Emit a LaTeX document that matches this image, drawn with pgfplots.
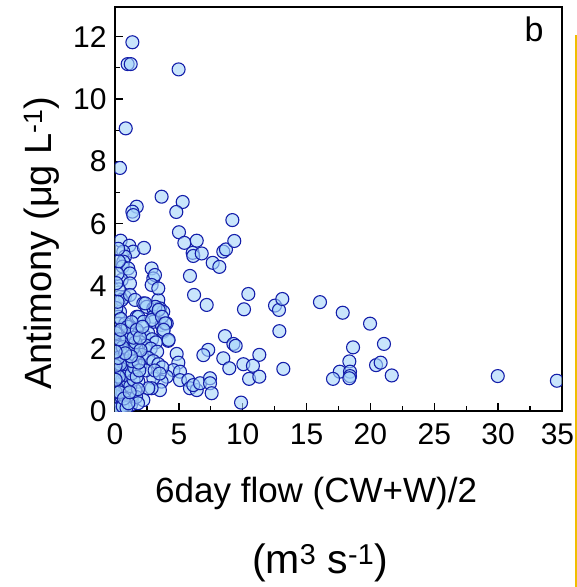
\documentclass[border=0pt]{standalone}
\usepackage{pgfplots}
\pgfplotsset{compat=1.18}
\usepackage{fontspec}
\setmainfont{Liberation Sans}
\definecolor{edgeblue}{RGB}{20,30,170}
\definecolor{fillblue}{RGB}{165,212,250}
\definecolor{gold}{RGB}{240,190,0}
\begin{document}
\begin{tikzpicture}[x=1pt,y=1pt]
\useasboundingbox (0,0) rectangle (577,-587);
\begin{axis}[
  at={(115pt,-411pt)}, anchor=south west,
  scale only axis, width=447pt, height=404pt,
  xmin=0, xmax=35, ymin=0, ymax=12.95,
  xtick={0,5,...,35}, ytick={0,2,...,12},
  xticklabels={0,5,10,15,20,25,30,35\hspace*{9pt}},
  minor x tick num=1, minor y tick num=1,
  xtick pos=bottom, ytick pos=left,
  tick align=inside,
  major tick length=8pt, minor tick length=5pt,
  tick style={line width=1.3pt, black},
  axis line style={line width=1.6pt, black},
  /pgf/number format/assume math mode=true,
  ticklabel style={font=\fontsize{30}{30}\selectfont},
  xticklabel style={yshift=-9pt},
  yticklabel style={xshift=-5pt},
  clip marker paths=true,
  xlabel={6day flow (CW+W)/2},
  xlabel style={font=\fontsize{35}{35}\selectfont, at={(axis description cs:0.45,-0.203)}, anchor=center},
  ylabel={Antimony (μg L\textsuperscript{-1})},
  ylabel style={font=\fontsize{38}{38}\selectfont, at={(axis description cs:-0.163,0.416)}, anchor=center},
]
\addplot[only marks, mark=*, mark size=6.5pt,
  mark options={draw=edgeblue, fill=fillblue, fill opacity=0.6, line width=1.1pt}]
  table {
x y
1.36 11.82
0.99 11.12
1.23 11.12
4.98 10.95
0.84 9.06
0.39 7.79
3.65 6.87
5.3 6.7
1.7 6.55
1.36 6.39
1.43 6.28
4.8 6.38
9.19 6.12
0.44 5.46
1.12 5.30
1.43 5.11
2.27 5.23
5.01 5.73
5.43 5.39
6.4 5.46
6.08 5.07
6.13 4.97
6.79 5.05
7.65 4.75
8.17 4.62
8.48 5.11
8.69 5.18
9.34 5.45
5.87 4.33
6.19 3.72
7.18 3.40
10.44 3.75
10.1 3.26
0.65 5.11
0.78 4.95
0.65 4.79
0.6 4.63
1.04 4.57
1.17 4.41
0.52 4.2
1.17 4.09
0.78 3.66
0.39 3.66
0.52 3.56
1.17 3.72
1.57 3.56
2.22 3.45
2.48 3.34
3.0 3.29
3.39 3.56
3.52 3.29
3.78 3.18
3.0 3.02
1.7 3.02
0.39 3.18
0.26 3.02
2.87 4.57
3.0 4.25
3.13 4.36
2.87 4.04
3.39 3.93
1.83 3.02
3.0 2.86
3.65 2.76
3.78 2.54
4.05 2.81
4.17 2.25
4.83 1.83
4.96 1.55
4.57 1.31
5.09 1.26
5.09 0.99
5.74 0.99
5.87 0.73
6.4 0.67
6.13 0.83
6.66 0.89
7.44 1.05
7.44 0.89
7.57 0.57
7.3 1.96
6.92 1.79
4.05 1.1
3.65 0.94
3.52 0.67
3.0 1.05
2.87 0.73
2.61 0.73
2.22 0.35
1.83 0.94
1.57 0.67
1.31 0.35
8.61 2.40
9.27 2.15
9.45 2.09
8.48 1.69
8.95 1.37
10.05 1.5
10.8 1.45
11.3 1.8
10.5 1.03
11.3 1.1
9.87 0.27
12.53 3.38
12.84 3.24
13.1 3.59
12.87 2.56
13.18 1.35
16.05 3.49
17.83 3.15
19.97 2.8
21.06 2.15
18.64 2.04
18.35 1.59
17.6 1.26
18.4 1.26
18.4 1.12
18.35 1.05
17.07 1.03
20.44 1.47
20.8 1.55
21.67 1.14
29.97 1.12
34.6 0.97
2.24 2.86
2.9 2.92
3.16 3.34
3.42 3.24
3.68 3.02
3.94 2.81
3.81 2.6
4.2 2.28
2.37 3.45
1.5 2.6
1.9 2.5
2.3 2.4
2.6 2.5
2.9 2.3
3.2 2.2
2.0 2.2
2.4 2.1
2.8 2.0
3.3 1.9
1.7 2.0
2.1 1.8
2.6 1.7
3.0 1.6
3.4 1.5
3.7 1.4
1.6 1.6
2.0 1.45
2.4 1.3
3.1 1.3
3.5 1.2
0.05 0.2
0.1 0.35
0.15 0.5
0.2 0.7
0.1 0.9
0.25 1.05
0.15 1.25
0.3 1.4
0.1 1.6
0.2 1.8
0.35 2.0
0.1 2.2
0.25 2.4
0.15 2.6
0.3 2.8
0.1 3.3
0.2 3.5
0.3 3.9
0.2 4.4
0.3 4.8
0.4 0.25
0.5 0.45
0.6 0.6
0.45 0.85
0.55 1.0
0.7 1.2
0.5 1.35
0.65 1.55
0.45 1.7
0.6 1.9
0.75 2.1
0.5 2.25
0.7 2.45
0.55 2.65
0.8 2.8
0.45 2.95
0.85 0.3
0.95 0.55
0.8 0.75
1.0 0.95
0.9 1.15
1.1 1.3
0.85 1.5
1.0 1.7
1.15 1.85
0.9 2.0
1.1 2.15
0.95 2.35
1.2 2.5
1.0 2.7
1.3 2.85
1.25 0.2
1.35 0.5
1.2 0.8
1.45 1.0
1.3 1.2
1.5 1.4
1.35 1.6
1.55 1.8
1.4 2.0
1.6 2.2
1.45 2.35
1.7 2.6
1.65 0.45
1.8 0.7
1.7 1.1
1.9 1.3
1.85 1.55
2.0 1.95
1.95 2.35
2.15 2.7
0.15 0.05
0.35 0.1
0.6 0.15
0.9 0.1
0.05 0.6
0.3 1.1
1.8 0.25
0.1 4.1
0.25 5.2
0.2 2.05
0.4 1.5
0.05 1.0
0.05 1.45
0.05 2.5
0.35 0.6
0.7 0.4
1.05 0.25
0.25 1.7
0.6 2.05
0.35 2.3
1.25 1.75
0.8 1.85
1.15 0.6
0.05 1.9
0.45 2.6
};
\end{axis}
\node[font=\fontsize{34}{34}\selectfont] at (534,-29) {b};
\node[font=\fontsize{41}{41}\selectfont] at (320,-563) {(m\textsuperscript{3} s\textsuperscript{-1})};
\draw[gold, line width=2pt] (576,-35) -- (576,-587);
\end{tikzpicture}
\end{document}
